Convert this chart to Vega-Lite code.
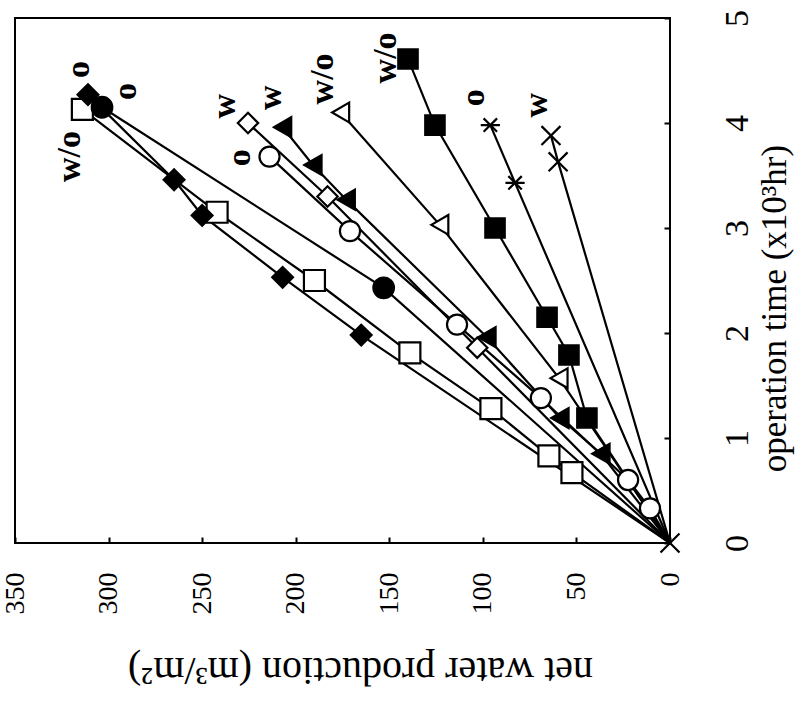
{
  "$schema": "https://vega.github.io/schema/vega-lite/v6.json",
  "width": 655,
  "height": 525,
  "autosize": {"type": "none"},
  "padding": {"left": 15, "top": 18, "right": 128, "bottom": 160},
  "background": "white",
  "config": {
    "view": {"stroke": "black", "strokeWidth": 2},
    "axis": {"grid": false, "domain": false, "tickColor": "black", "tickWidth": 2, "labelColor": "black", "titleColor": "black", "labelFont": "Liberation Serif", "titleFont": "Liberation Serif", "titleFontWeight": "normal"}
  },
  "datasets": {
    "pts": [
      {"series": "sq_open", "t": 0, "P": 0},
      {"series": "sq_open", "t": 0.67, "P": 52.4},
      {"series": "sq_open", "t": 0.83, "P": 64.7},
      {"series": "sq_open", "t": 1.28, "P": 95.7},
      {"series": "sq_open", "t": 1.81, "P": 139},
      {"series": "sq_open", "t": 2.5, "P": 190},
      {"series": "sq_open", "t": 3.15, "P": 242},
      {"series": "sq_open", "t": 4.13, "P": 314},
      {"series": "dia_fill", "t": 0, "P": 0},
      {"series": "dia_fill", "t": 1.98, "P": 165},
      {"series": "dia_fill", "t": 2.53, "P": 207},
      {"series": "dia_fill", "t": 3.12, "P": 250},
      {"series": "dia_fill", "t": 3.46, "P": 265},
      {"series": "dia_fill", "t": 4.27, "P": 311},
      {"series": "circ_fill", "t": 0, "P": 0},
      {"series": "circ_fill", "t": 2.43, "P": 153},
      {"series": "circ_fill", "t": 4.15, "P": 303.5},
      {"series": "dia_open", "t": 0, "P": 0},
      {"series": "dia_open", "t": 1.86, "P": 103},
      {"series": "dia_open", "t": 3.3, "P": 183},
      {"series": "dia_open", "t": 4.0, "P": 225.5},
      {"series": "circ_open", "t": 0, "P": 0},
      {"series": "circ_open", "t": 0.33, "P": 10.7},
      {"series": "circ_open", "t": 0.6, "P": 22.4},
      {"series": "circ_open", "t": 1.38, "P": 69},
      {"series": "circ_open", "t": 2.08, "P": 113.8},
      {"series": "circ_open", "t": 2.97, "P": 171},
      {"series": "circ_open", "t": 3.68, "P": 214},
      {"series": "tri_fill", "t": 0, "P": 0},
      {"series": "tri_fill", "t": 0.85, "P": 36.9},
      {"series": "tri_fill", "t": 1.19, "P": 58.8},
      {"series": "tri_fill", "t": 1.96, "P": 97.8},
      {"series": "tri_fill", "t": 3.27, "P": 173},
      {"series": "tri_fill", "t": 3.6, "P": 190.8},
      {"series": "tri_fill", "t": 3.96, "P": 207},
      {"series": "tri_open", "t": 0, "P": 0},
      {"series": "tri_open", "t": 1.57, "P": 59.3},
      {"series": "tri_open", "t": 3.03, "P": 123},
      {"series": "tri_open", "t": 4.1, "P": 176},
      {"series": "sq_fill", "t": 0, "P": 0},
      {"series": "sq_fill", "t": 1.19, "P": 44.4},
      {"series": "sq_fill", "t": 1.79, "P": 54},
      {"series": "sq_fill", "t": 2.15, "P": 65.7},
      {"series": "sq_fill", "t": 3.0, "P": 93.5},
      {"series": "sq_fill", "t": 3.98, "P": 125.6},
      {"series": "sq_fill", "t": 4.61, "P": 140},
      {"series": "ast", "t": 0, "P": 0},
      {"series": "ast", "t": 3.43, "P": 82.8},
      {"series": "ast", "t": 3.98, "P": 96},
      {"series": "x", "t": 0, "P": 0},
      {"series": "x", "t": 3.63, "P": 59.8},
      {"series": "x", "t": 3.88, "P": 63.6}
    ],
    "labels": [
      {"label": "w/o", "t": 3.68, "P": 320.7},
      {"label": "o", "t": 4.51, "P": 316},
      {"label": "o", "t": 4.3, "P": 290.7},
      {"label": "w", "t": 4.16, "P": 237.8},
      {"label": "o", "t": 3.67, "P": 229.8},
      {"label": "w", "t": 4.24, "P": 213},
      {"label": "w/o", "t": 4.42, "P": 185.4},
      {"label": "w/o", "t": 4.62, "P": 152},
      {"label": "o", "t": 4.24, "P": 105},
      {"label": "w", "t": 4.17, "P": 71}
    ]
  },
  "encoding": {
    "x": {
      "field": "P", "type": "quantitative",
      "scale": {"domain": [0, 350], "reverse": true, "nice": false, "zero": false},
      "axis": {"orient": "bottom", "values": [0, 50, 100, 150, 200, 250, 300, 350], "labelAngle": -90, "labelFontSize": 28, "tickSize": -6, "labelPadding": 35, "title": "net water production (m³/m²)", "titleAngle": 180, "titleFontSize": 40, "titleBaseline": "alphabetic", "titleAlign": "center", "titleX": 345, "titleY": 114}
    },
    "y": {
      "field": "t", "type": "quantitative",
      "scale": {"domain": [0, 5], "nice": false, "zero": false},
      "axis": {"orient": "right", "values": [0, 1, 2, 3, 4, 5], "labelAngle": -90, "labelFontSize": 34, "tickSize": -6, "labelPadding": 56, "title": "operation time (x10³hr)", "titleAngle": -90, "titleFontSize": 35, "titleBaseline": "alphabetic", "titleAlign": "center", "titleX": 115, "titleY": 290}
    }
  },
  "layer": [
    {
      "data": {"name": "pts"},
      "mark": {"type": "line", "stroke": "black", "strokeWidth": 2.2},
      "encoding": {"detail": {"field": "series"}, "order": {"field": "t", "type": "quantitative"}}
    },
    {
      "data": {"name": "pts"},
      "transform": [{"filter": "datum.t > 0 || datum.series == 'x'"}],
      "mark": {"type": "point", "filled": true, "stroke": "black", "strokeWidth": 2.2, "opacity": 1},
      "encoding": {
        "shape": {"field": "series", "type": "nominal", "legend": null,
          "scale": {"domain": ["sq_open", "dia_fill", "circ_fill", "dia_open", "circ_open", "tri_fill", "tri_open", "sq_fill", "ast", "x"],
            "range": ["square", "diamond", "circle", "diamond", "circle", "triangle-left", "triangle-left", "square", "M-1,0H1M-0.7,-0.7L0.7,0.7M-0.7,0.7L0.7,-0.7", "M-1,-1L1,1M-1,1L1,-1"]}},
        "fill": {"field": "series", "type": "nominal", "legend": null,
          "scale": {"domain": ["sq_open", "dia_fill", "circ_fill", "dia_open", "circ_open", "tri_fill", "tri_open", "sq_fill", "ast", "x"],
            "range": ["white", "black", "black", "white", "white", "black", "white", "black", "black", "black"]}},
        "size": {"field": "series", "type": "nominal", "legend": null,
          "scale": {"domain": ["sq_open", "dia_fill", "circ_fill", "dia_open", "circ_open", "tri_fill", "tri_open", "sq_fill", "ast", "x"],
            "range": [441, 360, 380, 400, 420, 420, 460, 400, 500, 500]}}
      }
    },
    {
      "data": {"name": "labels"},
      "mark": {"type": "text", "angle": -90, "align": "center", "baseline": "middle", "font": "Liberation Serif", "fontSize": 34, "fontWeight": "bold", "color": "black"},
      "encoding": {"text": {"field": "label"}}
    }
  ]
}
